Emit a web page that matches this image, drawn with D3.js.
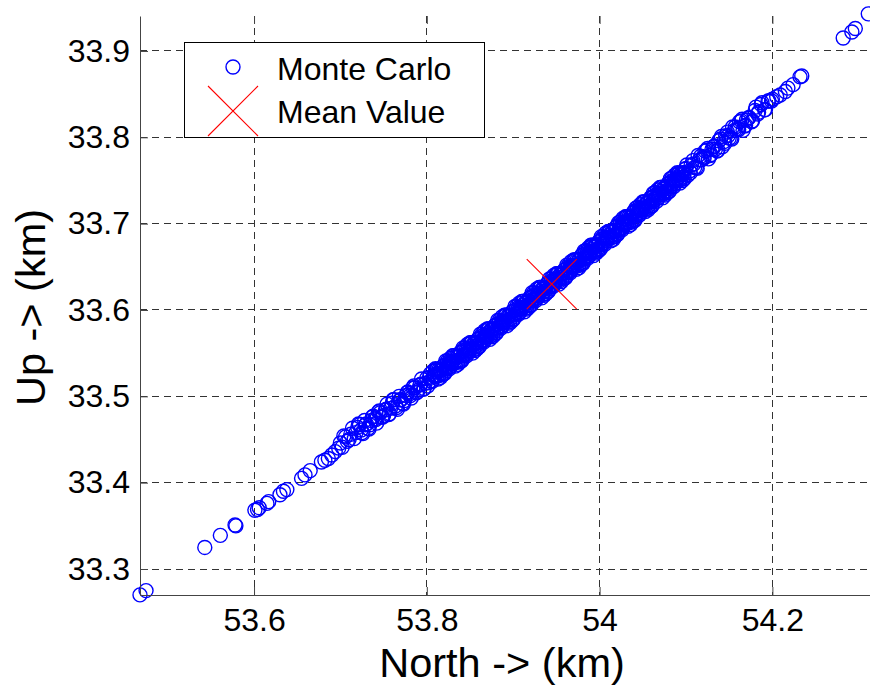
<!DOCTYPE html>
<html><head><meta charset="utf-8">
<script src="https://cdn.jsdelivr.net/npm/d3@7"></script>
<style>
html,body{margin:0;padding:0;background:#fff;}
svg{display:block;font-family:"Liberation Sans",Arial,Helvetica,sans-serif;}
</style></head><body>
<svg id="chart" width="870" height="690"></svg>
<script>
// ---------------- data ----------------
const xTicks = [53.6, 53.8, 54.0, 54.2];
const xTickLabels = ["53.6", "53.8", "54", "54.2"];
const yTicks = [33.3, 33.4, 33.5, 33.6, 33.7, 33.8, 33.9];
const yTickLabels = ["33.3", "33.4", "33.5", "33.6", "33.7", "33.8", "33.9"];
const xLimits = [53.468, 54.313];
const yLimits = [33.2699, 33.9405];
const xLabel = "North -> (km)";
const yLabel = "Up -> (km)";
const legendLabels = ["Monte Carlo", "Mean Value"];

const meanNorth = [53.9446];
const meanUp = [33.630];

const northKm = [
  // lower tail
  53.468, 53.475, 53.543, 53.561, 53.578, 53.579, 53.601, 53.604, 53.606, 53.615, 53.617, 53.630,
  53.634, 53.638, 53.655, 53.659, 53.665, 53.678, 53.682, 53.686, 53.690, 53.694, 53.698,
  // lower band
  53.700, 53.704, 53.708, 53.712, 53.716, 53.720, 53.724, 53.728, 53.732, 53.736, 53.740, 53.744, 53.748,
  53.752, 53.756, 53.760, 53.764, 53.768, 53.772, 53.776, 53.780, 53.784, 53.788, 53.792, 53.796,
  53.702, 53.706, 53.710, 53.714, 53.718, 53.722, 53.726, 53.730, 53.734, 53.738, 53.742, 53.746, 53.750,
  53.754, 53.758, 53.762, 53.766, 53.770, 53.774, 53.778, 53.782, 53.786, 53.790, 53.794, 53.798,
  53.721, 53.725, 53.729, 53.733, 53.737, 53.741, 53.745, 53.749, 53.753, 53.757,
  53.761, 53.765, 53.769, 53.773, 53.777, 53.781, 53.785, 53.789, 53.793, 53.797,
  // dense core (even thousandths)
  53.800, 53.802, 53.804, 53.806, 53.808, 53.810, 53.812, 53.814, 53.816, 53.818,
  53.820, 53.822, 53.824, 53.826, 53.828, 53.830, 53.832, 53.834, 53.836, 53.838,
  53.840, 53.842, 53.844, 53.846, 53.848, 53.850, 53.852, 53.854, 53.856, 53.858,
  53.860, 53.862, 53.864, 53.866, 53.868, 53.870, 53.872, 53.874, 53.876, 53.878,
  53.880, 53.882, 53.884, 53.886, 53.888, 53.890, 53.892, 53.894, 53.896, 53.898,
  53.900, 53.902, 53.904, 53.906, 53.908, 53.910, 53.912, 53.914, 53.916, 53.918,
  53.920, 53.922, 53.924, 53.926, 53.928, 53.930, 53.932, 53.934, 53.936, 53.938,
  53.940, 53.942, 53.944, 53.946, 53.948, 53.950, 53.952, 53.954, 53.956, 53.958,
  53.960, 53.962, 53.964, 53.966, 53.968, 53.970, 53.972, 53.974, 53.976, 53.978,
  53.980, 53.982, 53.984, 53.986, 53.988, 53.990, 53.992, 53.994, 53.996, 53.998,
  54.000, 54.002, 54.004, 54.006, 54.008, 54.010, 54.012, 54.014, 54.016, 54.018,
  54.020, 54.022, 54.024, 54.026, 54.028, 54.030, 54.032, 54.034, 54.036, 54.038,
  54.040, 54.042, 54.044, 54.046, 54.048, 54.050, 54.052, 54.054, 54.056, 54.058,
  54.060, 54.062, 54.064, 54.066, 54.068, 54.070, 54.072, 54.074, 54.076, 54.078,
  54.080, 54.082, 54.084, 54.086, 54.088, 54.090, 54.092, 54.094, 54.096, 54.098,
  54.100,
  // dense core (odd thousandths)
  53.801, 53.803, 53.805, 53.807, 53.809, 53.811, 53.813, 53.815, 53.817, 53.819,
  53.821, 53.823, 53.825, 53.827, 53.829, 53.831, 53.833, 53.835, 53.837, 53.839,
  53.841, 53.843, 53.845, 53.847, 53.849, 53.851, 53.853, 53.855, 53.857, 53.859,
  53.861, 53.863, 53.865, 53.867, 53.869, 53.871, 53.873, 53.875, 53.877, 53.879,
  53.881, 53.883, 53.885, 53.887, 53.889, 53.891, 53.893, 53.895, 53.897, 53.899,
  53.901, 53.903, 53.905, 53.907, 53.909, 53.911, 53.913, 53.915, 53.917, 53.919,
  53.921, 53.923, 53.925, 53.927, 53.929, 53.931, 53.933, 53.935, 53.937, 53.939,
  53.941, 53.943, 53.945, 53.947, 53.949, 53.951, 53.953, 53.955, 53.957, 53.959,
  53.961, 53.963, 53.965, 53.967, 53.969, 53.971, 53.973, 53.975, 53.977, 53.979,
  53.981, 53.983, 53.985, 53.987, 53.989, 53.991, 53.993, 53.995, 53.997, 53.999,
  54.001, 54.003, 54.005, 54.007, 54.009, 54.011, 54.013, 54.015, 54.017, 54.019,
  54.021, 54.023, 54.025, 54.027, 54.029, 54.031, 54.033, 54.035, 54.037, 54.039,
  54.041, 54.043, 54.045, 54.047, 54.049, 54.051, 54.053, 54.055, 54.057, 54.059,
  54.061, 54.063, 54.065, 54.067, 54.069, 54.071, 54.073, 54.075, 54.077, 54.079,
  54.081, 54.083, 54.085, 54.087, 54.089, 54.091, 54.093, 54.095, 54.097, 54.099,
  // dense core (second draw, even thousandths)
  53.810, 53.812, 53.814, 53.816, 53.818, 53.820, 53.822, 53.824, 53.826, 53.828,
  53.830, 53.832, 53.834, 53.836, 53.838, 53.840, 53.842, 53.844, 53.846, 53.848,
  53.850, 53.852, 53.854, 53.856, 53.858, 53.860, 53.862, 53.864, 53.866, 53.868,
  53.870, 53.872, 53.874, 53.876, 53.878, 53.880, 53.882, 53.884, 53.886, 53.888,
  53.890, 53.892, 53.894, 53.896, 53.898, 53.900, 53.902, 53.904, 53.906, 53.908,
  53.910, 53.912, 53.914, 53.916, 53.918, 53.920, 53.922, 53.924, 53.926, 53.928,
  53.930, 53.932, 53.934, 53.936, 53.938, 53.940, 53.942, 53.944, 53.946, 53.948,
  53.950, 53.952, 53.954, 53.956, 53.958, 53.960, 53.962, 53.964, 53.966, 53.968,
  53.970, 53.972, 53.974, 53.976, 53.978, 53.980, 53.982, 53.984, 53.986, 53.988,
  53.990, 53.992, 53.994, 53.996, 53.998, 54.000, 54.002, 54.004, 54.006, 54.008,
  54.010, 54.012, 54.014, 54.016, 54.018, 54.020, 54.022, 54.024, 54.026, 54.028,
  54.030, 54.032, 54.034, 54.036, 54.038, 54.040, 54.042, 54.044, 54.046, 54.048,
  54.050, 54.052, 54.054, 54.056, 54.058, 54.060, 54.062, 54.064, 54.066, 54.068,
  54.070, 54.072, 54.074, 54.076, 54.078, 54.080, 54.082, 54.084, 54.086, 54.088,
  54.090, 54.092, 54.094, 54.096, 54.098,
  // upper band
  54.104, 54.108, 54.112, 54.116, 54.120, 54.124, 54.128, 54.132, 54.136, 54.140, 54.144, 54.148, 54.152,
  54.156, 54.160, 54.164, 54.168, 54.172, 54.176, 54.180, 54.184, 54.188, 54.192, 54.196, 54.200,
  54.102, 54.106, 54.110, 54.114, 54.118, 54.122, 54.126, 54.130, 54.134, 54.138, 54.142, 54.146, 54.150,
  54.154, 54.158, 54.162, 54.166, 54.170,
  54.101, 54.105, 54.109, 54.113, 54.117, 54.121, 54.125, 54.129, 54.133, 54.137, 54.141,
  54.145, 54.149, 54.153, 54.157, 54.161, 54.165, 54.169, 54.173, 54.177, 54.181,
  54.183, 54.187, 54.191, 54.195, 54.199,
  // upper tail
  54.205, 54.209, 54.215, 54.218, 54.224, 54.232, 54.234, 54.282, 54.292, 54.296, 54.311
];

const upKm = [
  // lower tail
  33.270, 33.275, 33.325, 33.339, 33.351, 33.350, 33.368, 33.369, 33.371, 33.376, 33.378, 33.386,
  33.390, 33.392, 33.405, 33.409, 33.414, 33.424, 33.426, 33.428, 33.432, 33.436, 33.440,
  // lower band
  33.446, 33.454, 33.448, 33.456, 33.451, 33.464, 33.461, 33.472, 33.463, 33.472, 33.474, 33.482, 33.476,
  33.484, 33.479, 33.492, 33.489, 33.500, 33.492, 33.501, 33.503, 33.510, 33.504, 33.513, 33.508,
  33.441, 33.453, 33.450, 33.463, 33.458, 33.467, 33.457, 33.468, 33.467, 33.477, 33.469, 33.481, 33.478,
  33.491, 33.486, 33.496, 33.485, 33.496, 33.495, 33.505, 33.498, 33.510, 33.507, 33.520, 33.515,
  33.468, 33.458, 33.467, 33.462, 33.476, 33.473, 33.483, 33.476, 33.485, 33.480,
  33.496, 33.487, 33.496, 33.491, 33.504, 33.501, 33.512, 33.505, 33.514, 33.509,
  // dense core (even thousandths)
  33.521, 33.516, 33.526, 33.517, 33.524, 33.525, 33.531, 33.524, 33.531, 33.525,
  33.536, 33.532, 33.541, 33.532, 33.539, 33.540, 33.546, 33.539, 33.546, 33.540,
  33.551, 33.547, 33.556, 33.547, 33.555, 33.555, 33.562, 33.554, 33.562, 33.555,
  33.567, 33.563, 33.572, 33.563, 33.570, 33.571, 33.578, 33.570, 33.578, 33.571,
  33.583, 33.579, 33.588, 33.579, 33.586, 33.587, 33.594, 33.586, 33.594, 33.587,
  33.599, 33.595, 33.604, 33.595, 33.602, 33.603, 33.610, 33.602, 33.610, 33.603,
  33.615, 33.611, 33.620, 33.611, 33.618, 33.619, 33.626, 33.618, 33.626, 33.619,
  33.631, 33.627, 33.636, 33.627, 33.634, 33.635, 33.642, 33.634, 33.642, 33.636,
  33.647, 33.643, 33.652, 33.643, 33.651, 33.651, 33.658, 33.651, 33.658, 33.652,
  33.664, 33.659, 33.669, 33.660, 33.667, 33.668, 33.674, 33.667, 33.675, 33.668,
  33.680, 33.676, 33.685, 33.676, 33.684, 33.684, 33.691, 33.684, 33.691, 33.685,
  33.697, 33.692, 33.702, 33.693, 33.700, 33.701, 33.708, 33.701, 33.708, 33.702,
  33.714, 33.709, 33.719, 33.710, 33.717, 33.718, 33.725, 33.717, 33.725, 33.719,
  33.730, 33.726, 33.736, 33.726, 33.734, 33.735, 33.742, 33.734, 33.742, 33.736,
  33.747, 33.743, 33.753, 33.743, 33.751, 33.752, 33.758, 33.751, 33.759, 33.752,
  33.764,
  // dense core (odd thousandths)
  33.512, 33.522, 33.518, 33.529, 33.523, 33.531, 33.520, 33.529, 33.527, 33.535,
  33.527, 33.537, 33.533, 33.544, 33.538, 33.547, 33.535, 33.545, 33.542, 33.551,
  33.542, 33.553, 33.548, 33.560, 33.553, 33.562, 33.550, 33.560, 33.558, 33.566,
  33.558, 33.568, 33.564, 33.576, 33.569, 33.578, 33.566, 33.576, 33.574, 33.582,
  33.574, 33.584, 33.580, 33.592, 33.585, 33.594, 33.582, 33.592, 33.590, 33.598,
  33.590, 33.600, 33.596, 33.608, 33.601, 33.610, 33.598, 33.608, 33.606, 33.614,
  33.606, 33.616, 33.612, 33.624, 33.617, 33.626, 33.614, 33.624, 33.622, 33.630,
  33.622, 33.632, 33.628, 33.640, 33.633, 33.642, 33.630, 33.640, 33.638, 33.646,
  33.638, 33.649, 33.644, 33.656, 33.650, 33.658, 33.647, 33.656, 33.654, 33.663,
  33.654, 33.665, 33.661, 33.672, 33.666, 33.675, 33.663, 33.673, 33.670, 33.679,
  33.671, 33.682, 33.677, 33.689, 33.683, 33.691, 33.680, 33.690, 33.687, 33.696,
  33.688, 33.698, 33.694, 33.706, 33.699, 33.708, 33.697, 33.706, 33.704, 33.713,
  33.704, 33.715, 33.711, 33.722, 33.716, 33.725, 33.714, 33.723, 33.721, 33.730,
  33.721, 33.732, 33.728, 33.739, 33.733, 33.742, 33.730, 33.740, 33.738, 33.746,
  33.738, 33.749, 33.744, 33.756, 33.750, 33.758, 33.747, 33.757, 33.754, 33.763,
  // dense core (second draw, even thousandths)
  33.532, 33.524, 33.531, 33.522, 33.532, 33.526, 33.541, 33.534, 33.540, 33.535,
  33.547, 33.539, 33.546, 33.537, 33.547, 33.541, 33.556, 33.549, 33.555, 33.551,
  33.562, 33.555, 33.561, 33.553, 33.562, 33.557, 33.572, 33.565, 33.571, 33.566,
  33.578, 33.571, 33.577, 33.569, 33.578, 33.573, 33.588, 33.581, 33.587, 33.582,
  33.594, 33.587, 33.593, 33.585, 33.594, 33.589, 33.604, 33.597, 33.603, 33.598,
  33.610, 33.603, 33.609, 33.601, 33.610, 33.605, 33.620, 33.613, 33.619, 33.614,
  33.626, 33.619, 33.625, 33.617, 33.626, 33.621, 33.636, 33.629, 33.635, 33.630,
  33.642, 33.635, 33.641, 33.633, 33.643, 33.637, 33.652, 33.645, 33.651, 33.647,
  33.658, 33.651, 33.658, 33.649, 33.659, 33.654, 33.668, 33.662, 33.668, 33.663,
  33.675, 33.667, 33.674, 33.666, 33.675, 33.670, 33.685, 33.678, 33.684, 33.680,
  33.691, 33.684, 33.691, 33.682, 33.692, 33.687, 33.701, 33.695, 33.701, 33.697,
  33.708, 33.701, 33.708, 33.699, 33.709, 33.704, 33.718, 33.712, 33.718, 33.713,
  33.725, 33.718, 33.724, 33.716, 33.726, 33.720, 33.735, 33.729, 33.734, 33.730,
  33.742, 33.734, 33.741, 33.733, 33.743, 33.737, 33.752, 33.746, 33.751, 33.747,
  33.759, 33.751, 33.758, 33.750, 33.759,
  // upper band
  33.761, 33.773, 33.765, 33.774, 33.777, 33.785, 33.779, 33.789, 33.784, 33.798, 33.795, 33.806, 33.799,
  33.808, 33.810, 33.819, 33.813, 33.822, 33.818, 33.831, 33.829, 33.840, 33.832, 33.842, 33.844,
  33.756, 33.768, 33.765, 33.779, 33.774, 33.784, 33.775, 33.786, 33.786, 33.796, 33.789, 33.802, 33.799,
  33.812, 33.808, 33.818, 33.808, 33.820,
  33.768, 33.759, 33.769, 33.764, 33.778, 33.776, 33.787, 33.780, 33.790, 33.785, 33.801,
  33.793, 33.802, 33.798, 33.812, 33.809, 33.821, 33.814, 33.823, 33.819, 33.835,
  33.827, 33.838, 33.832, 33.842, 33.842,
  // upper tail
  33.847, 33.849, 33.853, 33.857, 33.861, 33.870, 33.871, 33.915, 33.922, 33.926, 33.943
];

// ---------------- layout ----------------
const plot = { left: 140, top: 16, right: 870, bottom: 595 };
const tickFont = 32, labelFont = 41.5, legendFont = 32;
const gridColor = "#333", axisColor = "#444";
const markerR = 7, markerColor = "#0000ff", meanColor = "#ff0000", meanHalf = 25;
const markerStroke = 1.4;

const svg = d3.select("#chart");
svg.append("rect").attr("width", 870).attr("height", 690).attr("fill", "#fff");

const x = d3.scaleLinear().domain(xLimits).range([plot.left, plot.right]);
const y = d3.scaleLinear().domain(yLimits).range([plot.bottom, plot.top]);

// grid
const grid = svg.append("g").attr("stroke", gridColor).attr("stroke-width", 1)
  .attr("stroke-dasharray", "7,5").attr("shape-rendering", "crispEdges");
grid.selectAll("line.v").data(xTicks).join("line").attr("class", "v")
  .attr("x1", d => x(d)).attr("x2", d => x(d)).attr("y1", plot.top).attr("y2", plot.bottom);
grid.selectAll("line.h").data(yTicks).join("line").attr("class", "h")
  .attr("x1", plot.left).attr("x2", plot.right).attr("y1", d => y(d)).attr("y2", d => y(d));

// data
const pts = northKm.map((n, i) => ({ n, u: upKm[i] }));
svg.append("g").selectAll("circle").data(pts).join("circle")
  .attr("cx", d => x(d.n)).attr("cy", d => y(d.u)).attr("r", markerR)
  .attr("fill", "none").attr("stroke", markerColor).attr("stroke-width", markerStroke);

// mean marker
const meanPts = meanNorth.map((n, i) => ({ n, u: meanUp[i] }));
svg.append("g").selectAll("path").data(meanPts).join("path")
  .attr("d", d => {
    const cx = x(d.n), cy = y(d.u);
    return `M${cx - meanHalf},${cy - meanHalf}L${cx + meanHalf},${cy + meanHalf}M${cx - meanHalf},${cy + meanHalf}L${cx + meanHalf},${cy - meanHalf}`;
  })
  .attr("stroke", meanColor).attr("stroke-width", 1.1).attr("fill", "none");

// axes
function styleAxis(g) {
  g.attr("font-family", null).attr("font-size", null);
  g.select(".domain").attr("stroke", axisColor).attr("stroke-width", 1);
  g.selectAll(".tick line").attr("stroke", axisColor).attr("stroke-width", 1);
  g.selectAll(".tick text").attr("fill", "#000").attr("font-size", tickFont);
}
const xAxis = d3.axisBottom(x).tickValues(xTicks).tickFormat((d, i) => xTickLabels[i])
  .tickSizeInner(-8).tickSizeOuter(0).tickPadding(13);
svg.append("g").attr("transform", `translate(0,${plot.bottom})`).call(xAxis).call(styleAxis);

const yAxis = d3.axisLeft(y).tickValues(yTicks).tickFormat((d, i) => yTickLabels[i])
  .tickSizeInner(-8).tickSizeOuter(0).tickPadding(10);
svg.append("g").attr("transform", `translate(${plot.left},0)`).call(yAxis).call(styleAxis);

const topAxis = d3.axisTop(x).tickValues(xTicks).tickFormat("").tickSizeInner(-8).tickSizeOuter(0);
svg.append("g").attr("transform", `translate(0,${plot.top})`).call(topAxis).call(g => {
  g.select(".domain").remove();
  g.selectAll(".tick line").attr("stroke", axisColor);
});

// axis labels
svg.append("text").attr("x", (plot.left + plot.right) / 2 - 3).attr("y", 677)
  .attr("text-anchor", "middle").attr("font-size", labelFont).attr("fill", "#000").text(xLabel);
svg.append("text").attr("transform", `translate(45,${(plot.top + plot.bottom) / 2 + 2}) rotate(-90)`)
  .attr("text-anchor", "middle").attr("font-size", labelFont).attr("fill", "#000").text(yLabel);

// legend
const lg = svg.append("g");
lg.append("rect").attr("x", 184.5).attr("y", 42.5).attr("width", 300).attr("height", 95)
  .attr("fill", "#fff").attr("stroke", "#000").attr("stroke-width", 1);
lg.append("circle").attr("cx", 233).attr("cy", 67).attr("r", markerR)
  .attr("fill", "none").attr("stroke", markerColor).attr("stroke-width", markerStroke);
lg.append("path").attr("d", `M${233 - meanHalf},${111 - meanHalf}L${233 + meanHalf},${111 + meanHalf}M${233 - meanHalf},${111 + meanHalf}L${233 + meanHalf},${111 - meanHalf}`)
  .attr("stroke", meanColor).attr("stroke-width", 1.1).attr("fill", "none");
lg.selectAll("text").data(legendLabels).join("text")
  .attr("x", 277).attr("y", (d, i) => 80 + i * 43.3)
  .attr("font-size", legendFont).attr("fill", "#000").text(d => d);
</script>
</body></html>
